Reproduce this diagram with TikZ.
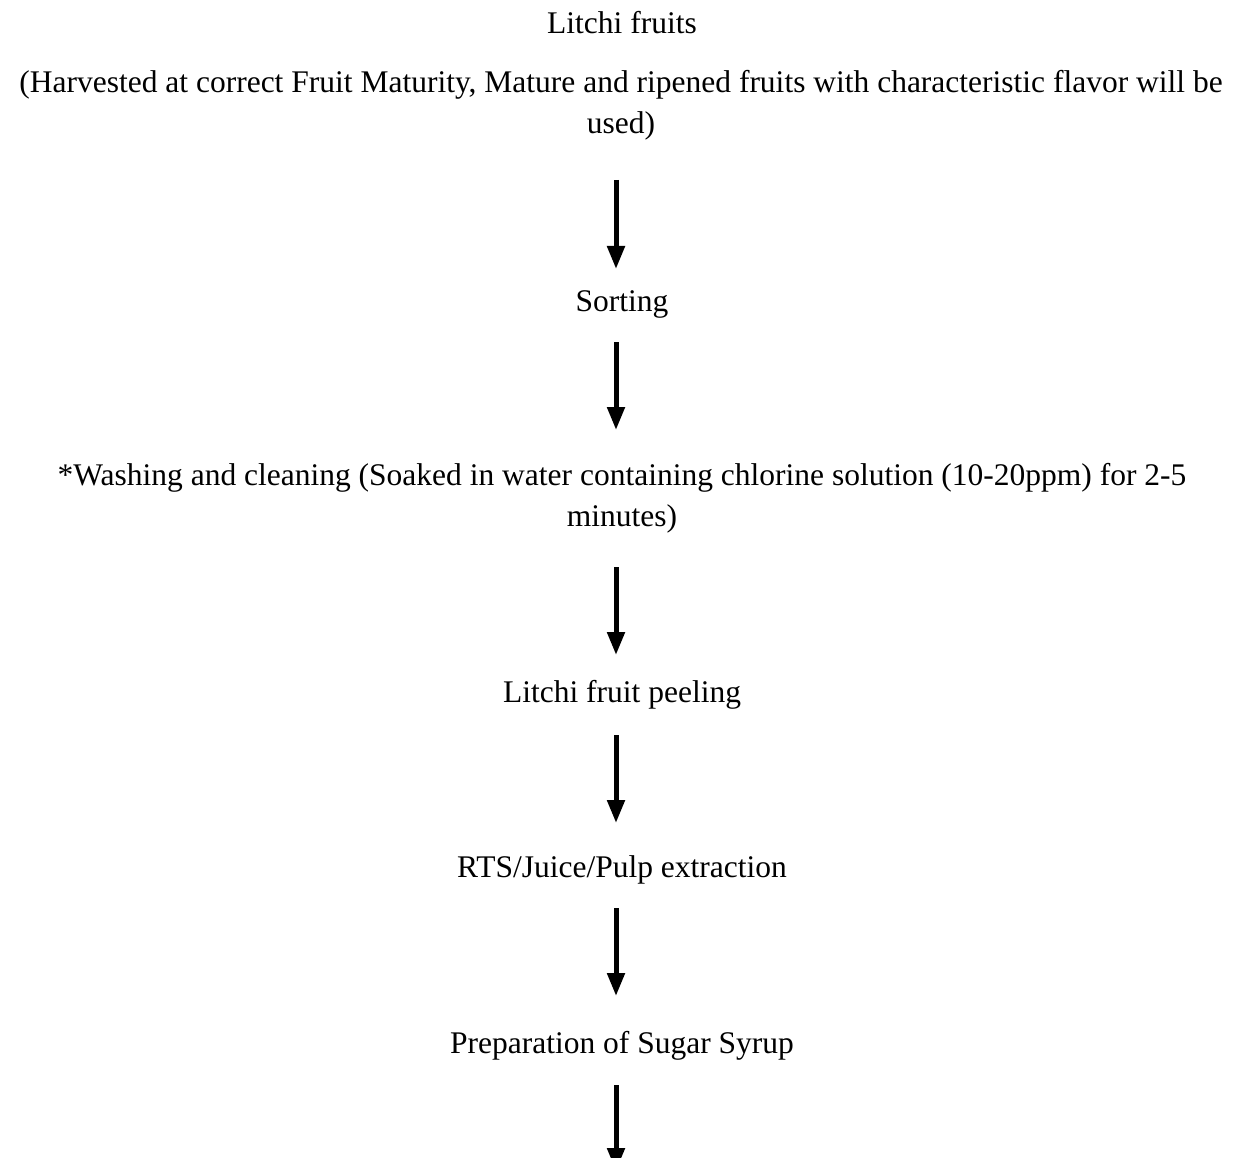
\documentclass[tikz,border=0pt]{standalone}
\usepackage{fontspec}
\setmainfont{Liberation Serif}
\usetikzlibrary{arrows.meta}
\begin{document}
\begin{tikzpicture}[x=1pt,y=-1pt,
  txt/.style={anchor=base,inner sep=0pt,align=center,font=\fontsize{31.5}{41}\selectfont},
  arr/.style={line width=5pt,-{Triangle[width=17pt,length=23pt]}}]
\useasboundingbox (0,0) rectangle (1245,1158);
\node[txt] (n1) at (622,34) {Litchi fruits};
\node[txt] (n2) at (621,134) {(Harvested at correct Fruit Maturity, Mature and ripened fruits with characteristic flavor will be\\used)};
\node[txt] (n3) at (622,312) {Sorting};
\node[txt] (n4) at (622,526) {*Washing and cleaning (Soaked in water containing chlorine solution (10-20ppm) for 2-5\\minutes)};
\node[txt] (n5) at (622,702) {Litchi fruit peeling};
\node[txt] (n6) at (622,877) {RTS/Juice/Pulp extraction};
\node[txt] (n7) at (622,1053) {Preparation of Sugar Syrup};
\coordinate (a1s) at (616,180);  \coordinate (a1e) at (616,269);
\coordinate (a2s) at (616,342);  \coordinate (a2e) at (616,430);
\coordinate (a3s) at (616,567);  \coordinate (a3e) at (616,655);
\coordinate (a4s) at (616,735);  \coordinate (a4e) at (616,823);
\coordinate (a5s) at (616,908);  \coordinate (a5e) at (616,996);
\coordinate (a6s) at (616,1085); \coordinate (a6e) at (616,1171);
\draw[arr] (a1s) -- (a1e);
\draw[arr] (a2s) -- (a2e);
\draw[arr] (a3s) -- (a3e);
\draw[arr] (a4s) -- (a4e);
\draw[arr] (a5s) -- (a5e);
\draw[arr] (a6s) -- (a6e);
\end{tikzpicture}
\end{document}
